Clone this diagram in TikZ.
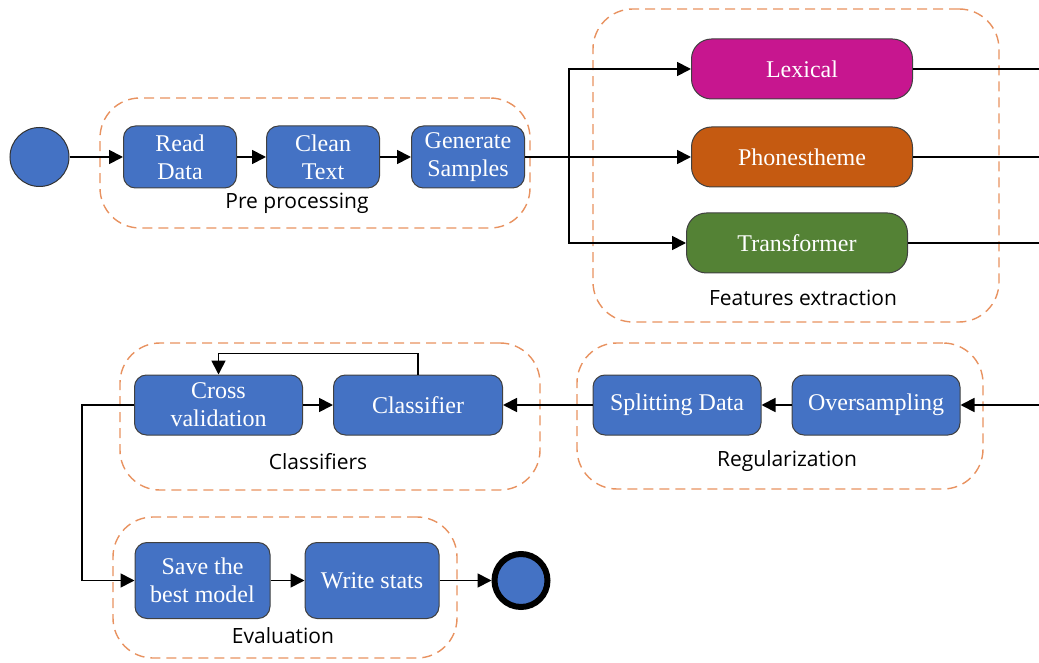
\documentclass[tikz,border=0pt]{standalone}
\usepackage{fontspec}
\setmainfont{Liberation Serif}
\newfontfamily\labelfont{Open Sans}
\usepackage{xcolor}
\usepackage{tikz}
\usetikzlibrary{positioning,arrows.meta}
\definecolor{stepblue}{RGB}{68,114,196}
\definecolor{lexmagenta}{RGB}{199,22,143}
\definecolor{phonorange}{RGB}{197,90,17}
\definecolor{transgreen}{RGB}{84,130,53}
\definecolor{groupdash}{RGB}{232,146,96}

\begin{document}
\begin{tikzpicture}[
        x=0.5pt, y=-0.5pt,
        node distance=14.5pt,
        font=\fontsize{12}{14}\selectfont,
        stepbox/.style={rectangle, rounded corners=6pt, draw=black!75, line width=0.5pt, fill=#1, text=white, align=center, inner sep=2pt, minimum height=30pt},
        stepbox/.default=stepblue,
        featbox/.style={stepbox=#1, rounded corners=10pt, minimum height=30pt},
        group/.style={draw=groupdash, line width=0.7pt, dash pattern=on 5pt off 3pt, rounded corners=20pt},
        grouplabel/.style={font=\labelfont\fontsize{10.5}{12}\selectfont, text=black},
        flow/.style={-{Triangle[length=7pt,width=7pt]}, line width=0.9pt},
        link/.style={line width=0.9pt}
    ]
        \useasboundingbox (0,0) rectangle (1039,663);

        % dashed stage frames
        \node[group, minimum width=215pt, minimum height=65pt] (pre) at (315,163) {};
        \node[grouplabel] (prelbl) at (297,203) {Pre processing};
        \node[group, minimum width=203pt, minimum height=156.5pt] (fe) at (796,165.5) {};
        \node[grouplabel] (felbl) at (803,298) {Features extraction};
        \node[group, minimum width=210pt, minimum height=73.5pt] (cls) at (330,416.5) {};
        \node[grouplabel] (clslbl) at (318,462) {Classifiers};
        \node[group, minimum width=203pt, minimum height=73pt] (reg) at (780,416) {};
        \node[grouplabel] (reglbl) at (787,461) {Regularization};
        \node[group, minimum width=172pt, minimum height=70.5pt] (eval) at (285,587.5) {};
        \node[grouplabel] (evallbl) at (283,636) {Evaluation};

        % pre processing
        \node[circle, draw=black!80, line width=0.5pt, fill=stepblue, minimum size=29.5pt, inner sep=0pt] (start) at (39.5,157) {};
        \node[stepbox, minimum width=56.5pt, minimum height=31pt] (read) at (180,157) {Read\\Data};
        \node[stepbox, minimum width=56.5pt, minimum height=31pt, right=14.5pt of read] (clean) {Clean\\Text};
        \node[stepbox, minimum width=56.5pt, minimum height=31pt, right=15.5pt of clean] (gen) {Generate\\Samples};

        % features
        \node[featbox=lexmagenta, minimum width=110.5pt] (lex) at (802,69) {Lexical};
        \node[featbox=phonorange, minimum width=110.5pt] (phon) at (802,157) {Phonestheme};
        \node[featbox=transgreen, minimum width=110.5pt] (trans) at (797,243) {Transformer};

        % regularization and classifiers
        \node[stepbox, minimum width=84pt] (over) at (876,405) {Oversampling};
        \node[stepbox, minimum width=84pt, left=15pt of over] (split) {Splitting Data};
        \node[stepbox, minimum width=84.5pt] (clf) at (418,405) {Classifier};
        \node[stepbox, minimum width=84pt, left=15pt of clf] (cross) {Cross\\validation};

        % evaluation
        \node[stepbox, minimum width=67.5pt, minimum height=38pt] (save) at (202.5,580.5) {Save the\\best model};
        \node[stepbox, minimum width=67pt, minimum height=38pt, right=17pt of save] (write) {Write stats};
        \node[circle, draw=black, line width=3pt, fill=stepblue, minimum size=26.5pt, inner sep=0pt, right=26pt of write] (stop) {};

        \coordinate[right=22pt of gen.east] (fork);
        \coordinate (rim) at (1039,405);

        \draw[flow] (start) -- (read);
        \draw[flow] (read) -- (clean);
        \draw[flow] (clean) -- (gen);
        \draw[flow] (gen) -- (phon);
        \draw[flow] (fork) |- (lex.west);
        \draw[flow] (fork) |- (trans.west);
        \draw[link] (lex.east) -- (lex.east -| rim);
        \draw[link] (phon.east) -- (phon.east -| rim);
        \draw[link] (trans.east) -- (trans.east -| rim);
        \draw[flow] (rim) -- (over);
        \draw[flow] (over) -- (split);
        \draw[flow] (split) -- (clf);
        \draw[flow] (cross) -- (clf);
        \draw[flow] (clf.north) -- ++(0,-21) -| (cross.north);
        \draw[flow] (cross.west) -- ++(-52,0) |- (save.west);
        \draw[flow] (save) -- (write);
        \draw[flow] (write) -- (stop);
    \end{tikzpicture}
\end{document}
